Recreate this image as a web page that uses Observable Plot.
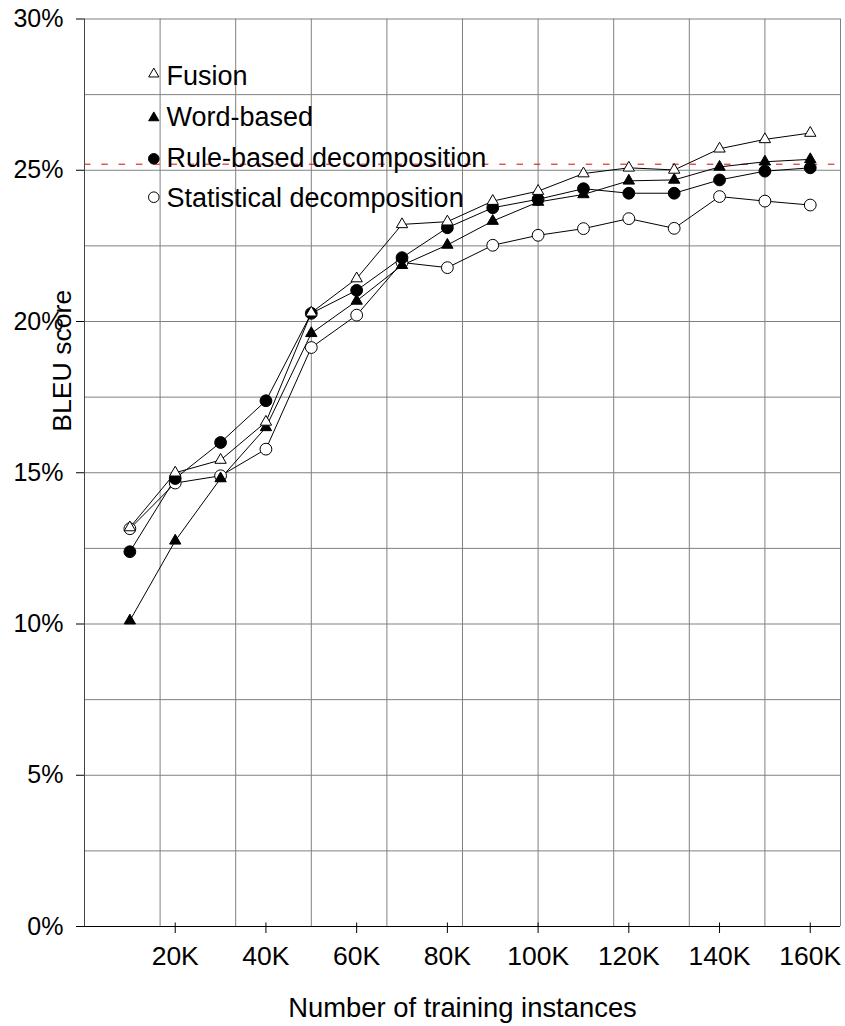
<!DOCTYPE html>
<html>
<head>
<meta charset="utf-8">
<script src="https://cdn.jsdelivr.net/npm/d3@7"></script>
<script src="https://cdn.jsdelivr.net/npm/@observablehq/plot@0.6"></script>
<style>
  html, body { margin: 0; padding: 0; background: #fff; }
  #chart svg { display: block; }
</style>
</head>
<body>
<div id="chart"></div>
<script>
// ---- data ----
const instances = [10000, 20000, 30000, 40000, 50000, 60000, 70000, 80000,
                   90000, 100000, 110000, 120000, 130000, 140000, 150000, 160000];
const fusion      = [13.19, 15.00, 15.42, 16.68, 20.29, 21.42, 23.21, 23.30, 23.98, 24.31, 24.89, 25.08, 25.01, 25.71, 26.02, 26.23];
const wordBased   = [10.11, 12.75, 14.81, 16.50, 19.61, 20.68, 21.86, 22.53, 23.32, 23.95, 24.20, 24.65, 24.68, 25.11, 25.28, 25.36];
const ruleBased   = [12.39, 14.81, 16.00, 17.38, 20.27, 21.03, 22.11, 23.10, 23.76, 24.04, 24.39, 24.24, 24.24, 24.68, 24.97, 25.08];
const statistical = [13.15, 14.66, 14.90, 15.78, 19.14, 20.21, 21.95, 21.78, 22.52, 22.85, 23.07, 23.40, 23.08, 24.13, 23.98, 23.85];

const seriesNames = ["Fusion", "Word-based", "Rule-based decomposition", "Statistical decomposition"];
const seriesValues = [fusion, wordBased, ruleBased, statistical];
const seriesSymbols = ["triangle", "triangle", "circle", "circle"];
const seriesFills = ["white", "black", "black", "white"];

const xTicks = [20000, 40000, 60000, 80000, 100000, 120000, 140000, 160000];
const xTickLabels = ["20K", "40K", "60K", "80K", "100K", "120K", "140K", "160K"];
const yTicks = [0, 5, 10, 15, 20, 25, 30];
const yTickLabels = ["0%", "5%", "10%", "15%", "20%", "25%", "30%"];
const xGrid = [16667, 33333, 50000, 66667, 83333, 100000, 116667, 133333, 150000, 166667];
const yGrid = [2.5, 5, 7.5, 10, 12.5, 15, 17.5, 20, 22.5, 25, 27.5, 30];
const referenceLine = [25.2];
const xDomain = [0, 166667];
const yDomain = [0, 30];

// ---- layout ----
const W = 845, H = 1026;
const mTop = 18.5, mBottom = 100, mLeft = 84, mRight = 5;
const frameH = H - mTop - mBottom;
const FONT = "Liberation Sans";

const rows = seriesNames.flatMap((name, i) =>
  instances.map((x, j) => ({series: name, x, y: seriesValues[i][j]})));

const drawOrder = [3, 2, 1, 0]; // statistical, rule, word, fusion (fusion on top)
const symR = {triangle: 4.2, circle: 5.9};

const marks = [
  Plot.gridY(yGrid, {stroke: "#808080", strokeOpacity: 1}),
  Plot.gridX(xGrid, {stroke: "#808080", strokeOpacity: 1}),
  Plot.ruleY(referenceLine, {stroke: "#e00000", strokeDasharray: "6.5,10.8"}),
  Plot.ruleX([0], {stroke: "#444"}),
  Plot.ruleY([0], {stroke: "black"}),
  Plot.axisY({ticks: yTicks, tickSize: 8, tickPadding: 13, tickFormat: d => yTickLabels[yTicks.indexOf(d)],
              fontSize: 25, label: null, stroke: "black"}),
  Plot.ruleX(xTicks, {stroke: "black", insetTop: frameH - 3.5, insetBottom: -7}),
  Plot.axisX({ticks: xTicks, tickSize: 0, tickPadding: 20, tickFormat: d => xTickLabels[xTicks.indexOf(d)],
              fontSize: 26.5, label: null}),
  Plot.text(["Number of training instances"], {frameAnchor: "bottom", dy: 81.5, fontSize: 27.4,
              textAnchor: "middle", lineAnchor: "middle"}),
  Plot.text(["BLEU score"], {frameAnchor: "left", rotate: -90, dx: -22, dy: -112, fontSize: 26.6,
              textAnchor: "middle", lineAnchor: "middle"}),
  ...drawOrder.map(i => Plot.line(rows.filter(d => d.series === seriesNames[i]),
      {x: "x", y: "y", stroke: "black", strokeWidth: 1})),
  ...drawOrder.map(i => Plot.dot(rows.filter(d => d.series === seriesNames[i]),
      {x: "x", y: "y", symbol: seriesSymbols[i], r: symR[seriesSymbols[i]],
       fill: seriesFills[i], stroke: "black", strokeWidth: 1})),
];

// legend inside the frame (top-left)
const legendMarkerDy = [55, 98.8, 139.8, 178.2];
const legendTextDy = [57.5, 98.5, 139.5, 179.5];
seriesNames.forEach((name, i) => {
  marks.push(Plot.dot([name], {frameAnchor: "top-left", dx: 69.3, dy: legendMarkerDy[i],
    symbol: seriesSymbols[i], r: seriesSymbols[i] === "triangle" ? 3.8 : 5.3,
    fill: seriesFills[i], stroke: "black", strokeWidth: 1}));
  marks.push(Plot.text([name], {frameAnchor: "top-left", dx: 82, dy: legendTextDy[i],
    text: d => d, textAnchor: "start", lineAnchor: "middle", fontSize: 27}));
});

const chart = Plot.plot({
  width: W, height: H,
  marginTop: mTop, marginBottom: mBottom, marginLeft: mLeft, marginRight: mRight,
  style: {fontFamily: FONT, background: "white", color: "black"},
  x: {domain: xDomain},
  y: {domain: yDomain},
  marks
});
document.getElementById("chart").appendChild(chart);
</script>
</body>
</html>
